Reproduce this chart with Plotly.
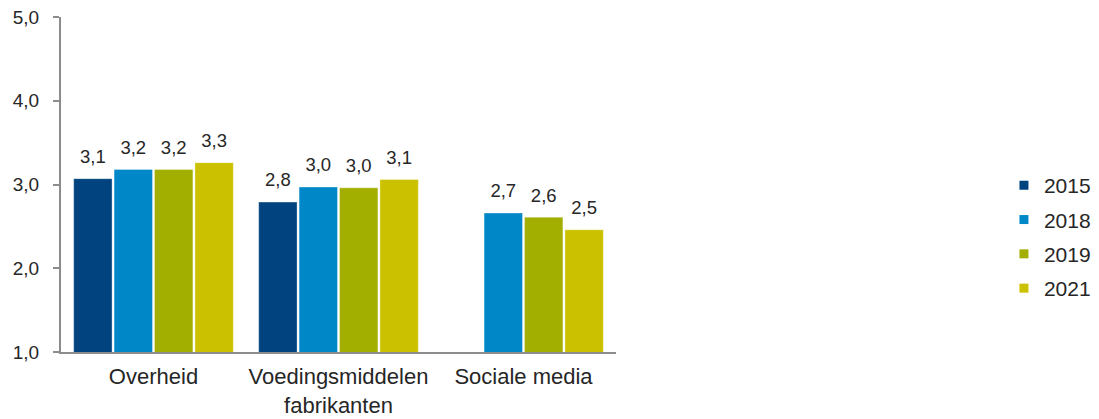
import plotly.graph_objects as go

# Scores per source of information, per survey year
categories = ["Overheid", "Voedingsmiddelen<br>fabrikanten", "Sociale media"]
years = ["2015", "2018", "2019", "2021"]
scores_2015 = [3.07, 2.79, None]
scores_2018 = [3.18, 2.97, 2.66]
scores_2019 = [3.18, 2.96, 2.61]
scores_2021 = [3.26, 3.06, 2.46]
y_ticks = [1, 2, 3, 4, 5]

series = [scores_2015, scores_2018, scores_2019, scores_2021]
colors = ["#00437F", "#0087C7", "#A3AF00", "#CCC100"]

FONT = "Liberation Sans, Arial, sans-serif"
TEXT = "#262626"
AXIS = "#8C8C8C"
BARGAP = 0.126


def fmt(v):
    return "" if v is None else f"{v:.1f}".replace(".", ",")


fig = go.Figure()

# Bars
for name, vals, col in zip(years, series, colors):
    fig.add_trace(go.Bar(
        x=categories, y=vals, name=name, marker_color=col,
        marker_line=dict(color="rgba(255,255,255,0.35)", width=1),
        showlegend=False, hoverinfo="skip",
    ))

# Value labels, grouped the same way as the bars
for name, vals in zip(years, series):
    fig.add_trace(go.Scatter(
        x=categories, y=vals, mode="markers+text",
        text=[fmt(v) for v in vals], textposition="top center",
        textfont=dict(family=FONT, size=18.5, color=TEXT),
        marker=dict(size=16, color="rgba(0,0,0,0)"),
        showlegend=False, hoverinfo="skip", cliponaxis=False,
    ))

# Legend entries (small square swatches) on a hidden overlay axis
for name, col in zip(years, colors):
    fig.add_trace(go.Scatter(
        x=[None], y=[None], mode="markers", name=name,
        marker=dict(symbol="square", size=9, color=col),
        legendgroup=name, xaxis="x2", yaxis="y",
    ))

fig.update_layout(
    width=1099, height=419,
    margin=dict(l=61, r=483, t=17, b=67, autoexpand=False),
    paper_bgcolor="white", plot_bgcolor="white",
    barmode="group", bargap=BARGAP, bargroupgap=0.05,
    scattermode="group", scattergap=BARGAP,
    separators=", ",
    font=dict(family=FONT, color=TEXT),
    legend=dict(
        x=1.699, y=0.343, xanchor="left", yanchor="middle",
        font=dict(family=FONT, size=21, color=TEXT),
        traceorder="grouped", tracegroupgap=4,
        bgcolor="rgba(0,0,0,0)",
    ),
    xaxis=dict(
        showline=True, linecolor=AXIS, linewidth=2, ticks="",
        showgrid=False, zeroline=False, automargin=False,
        tickfont=dict(family=FONT, size=22, color=TEXT),
        ticklabelstandoff=4,
    ),
    xaxis2=dict(overlaying="x", visible=False, range=[0, 1]),
    yaxis=dict(
        range=[1, 5], tickvals=y_ticks, tickformat=".1f",
        showline=True, linecolor=AXIS, linewidth=2,
        ticks="outside", ticklen=6, tickwidth=2, tickcolor=AXIS,
        showgrid=False, zeroline=False, automargin=False,
        tickfont=dict(family=FONT, size=19, color=TEXT),
        ticklabelstandoff=10,
    ),
)

fig.write_html("out.html")
